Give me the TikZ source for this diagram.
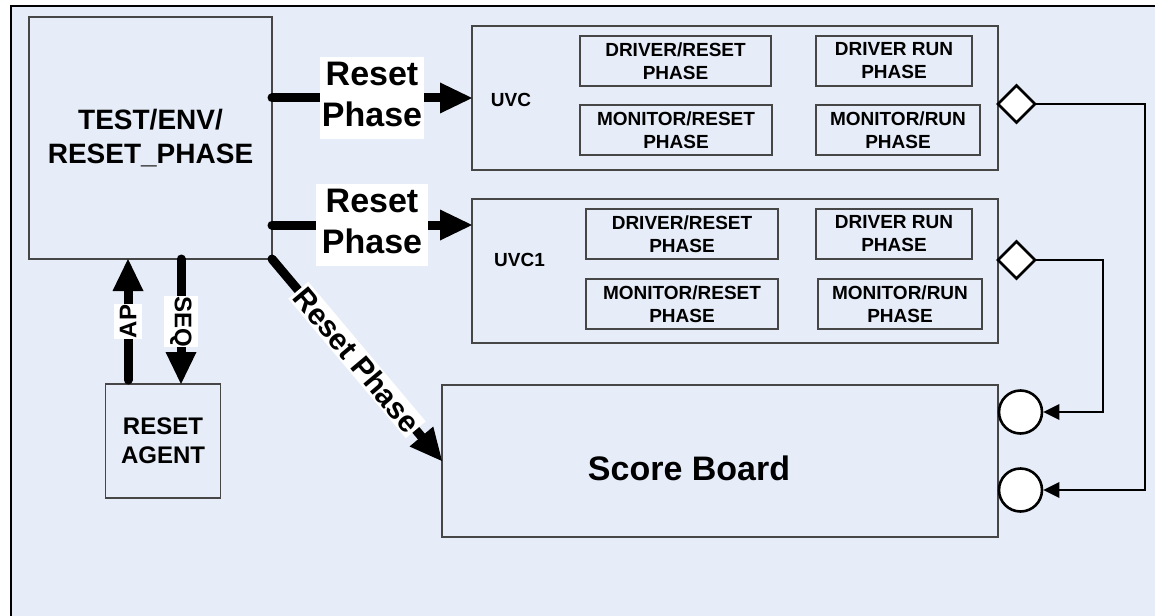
\documentclass[tikz,border=0pt]{standalone}
\usepackage{fontspec}
\setmainfont{Liberation Sans}
\usetikzlibrary{arrows.meta,shapes.geometric}
\definecolor{panel}{RGB}{230,237,248}
\definecolor{edge}{RGB}{70,70,70}
\tikzset{
  blk/.style={draw=edge, line width=1.2pt, inner sep=0pt, outer sep=0pt, align=center},
  phasebox/.style={blk, minimum height=50pt, font=\fontsize{19}{23}\selectfont\bfseries},
  thickflow/.style={line width=9pt, line cap=round,
    -{Triangle[length=32pt,width=31pt,line width=0pt]}},
  flowlbl/.style={fill=white, inner xsep=1.5pt, inner ysep=0pt, align=center,
    font=\fontsize{34}{41}\selectfont\bfseries},
  sidelbl/.style={fill=white, inner xsep=0.5pt, inner ysep=6pt,
    font=\fontsize{24}{29}\selectfont\bfseries},
  port/.style={draw=black, line width=2.6pt, fill=white, inner sep=0pt},
  wire/.style={line width=2.6pt, -{Triangle[length=16pt,width=16pt,line width=0pt]}},
  tag/.style={inner sep=0pt, font=\fontsize{19}{23}\selectfont\bfseries}
}
\begin{document}
\begin{tikzpicture}[x=1pt,y=-1pt]
\useasboundingbox (0,0) rectangle (1155,615);
% canvas and panel frame
\fill[white] (0,0) rectangle (1155,615);
\fill[panel] (11,6) rectangle (1160,620);
\draw[line width=1.5pt] (1160,6) -- (11,6) -- (11,620);

% main blocks
\node[blk, minimum width=243pt, minimum height=242pt,
      font=\fontsize{28}{34}\selectfont\bfseries] (test) at (150.5,138) {TEST/ENV/\\RESET\_PHASE};
\node[blk, minimum width=115pt, minimum height=114pt,
      font=\fontsize{24}{29}\selectfont\bfseries] (agent) at (163,441) {RESET\\AGENT};
\node[blk, minimum width=526pt, minimum height=144pt] (uvc) at (735,98) {};
\node[blk, minimum width=526pt, minimum height=144pt] (uvc1) at (735,271) {};
\node[blk, minimum width=556pt, minimum height=152pt] (sb) at (720,461) {};

% block titles
\node[tag, anchor=base] (uvcname) at (511,106.5) {UVC};
\node[tag, anchor=base] (uvc1name) at (519.5,266.5) {UVC1};
\node[inner sep=0pt, anchor=base, font=\fontsize{34}{41}\selectfont\bfseries] (sbname) at (689,480) {Score Board};

% phases inside UVC
\node[phasebox, minimum width=191pt] (udr) at (675.5,61) {DRIVER/RESET\\PHASE};
\node[phasebox, minimum width=156pt] (udrun) at (894,61) {DRIVER RUN\\PHASE};
\node[phasebox, minimum width=192pt] (umr) at (676,130) {MONITOR/RESET\\PHASE};
\node[phasebox, minimum width=164pt] (umrun) at (898,130) {MONITOR/RUN\\PHASE};

% phases inside UVC1
\node[phasebox, minimum width=192pt] (vdr) at (682,234) {DRIVER/RESET\\PHASE};
\node[phasebox, minimum width=156pt] (vdrun) at (894,234) {DRIVER RUN\\PHASE};
\node[phasebox, minimum width=192pt] (vmr) at (682,304) {MONITOR/RESET\\PHASE};
\node[phasebox, minimum width=164pt] (vmrun) at (900,304) {MONITOR/RUN\\PHASE};

% analysis ports and scoreboard exports
\node[port, diamond, aspect=1, outer sep=0pt, minimum width=37pt, minimum height=37pt] (d1) at (1016.5,104) {};
\node[port, diamond, aspect=1, outer sep=0pt, minimum width=37pt, minimum height=37pt] (d2) at (1016.5,260) {};
\node[port, circle, minimum size=43pt] (c1) at (1020.5,412) {};
\node[port, circle, minimum size=43pt] (c2) at (1020.5,490) {};

\draw[wire] (d1.east) -- (d1.east -| 1145,0) |- (c2.east);
\draw[wire] (d2.east) -- (d2.east -| 1103,0) |- (c1.east);

% reset phase flows
\draw[thickflow] (test.east |- 0,98) -- (uvc.west)
  node[midway, flowlbl] (lbla) {\strut Reset\\\strut Phase};
\draw[thickflow] (test.east |- 0,225) -- (uvc1.west |- 0,225)
  node[midway, flowlbl, inner xsep=6pt] (lblb) {\strut Reset\\\strut Phase};
\draw[thickflow] (test.south east) -- (sb.west)
  node[midway, sloped, fill=white, inner sep=2pt,
       font=\fontsize{30}{36}\selectfont\bfseries] (lblc) {Reset Phase};

% agent handshake
\draw[thickflow, shorten <=4pt] (agent.north -| 128,0) -- (test.south -| 128,0)
  node[midway, sidelbl, rotate=90] (lblap) {AP};
\draw[thickflow] (test.south -| 181,0) -- (agent.north -| 181,0)
  node[midway, sidelbl, rotate=-90] (lblseq) {SEQ};
\end{tikzpicture}
\end{document}
